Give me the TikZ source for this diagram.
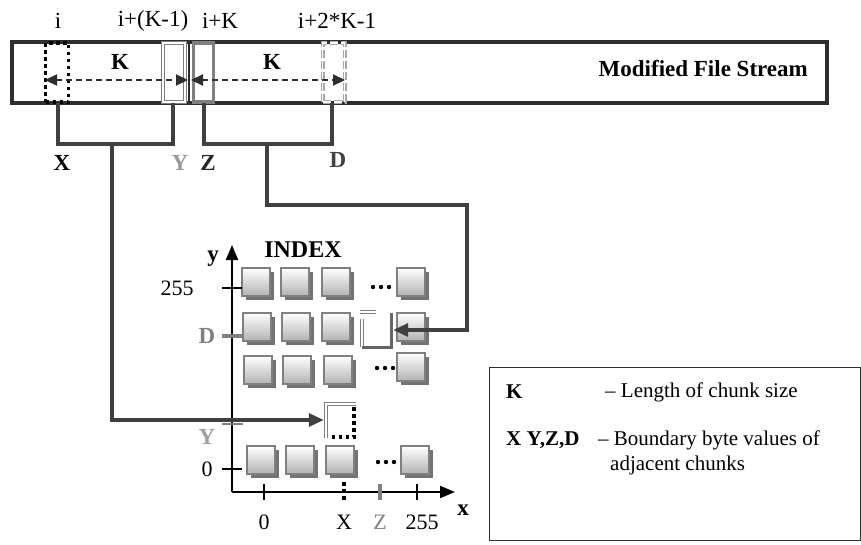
\documentclass[tikz,border=0pt]{standalone}
\usepackage{fontspec}
\setmainfont{Liberation Serif}
\usetikzlibrary{arrows.meta,shadows,calc}
\definecolor{dk}{HTML}{2E2E2E}
\definecolor{ln}{HTML}{404040}
\definecolor{gy}{HTML}{808080}
\definecolor{lgy}{HTML}{A8A8A8}
\begin{document}
\begin{tikzpicture}[x=1pt,y=-1pt,
  font=\fontsize{23}{26}\selectfont,
  lbl/.style={inner sep=0pt},
  blbl/.style={inner sep=0pt,font=\fontsize{23}{26}\selectfont\bfseries},
  llbl/.style={inner sep=0pt,font=\fontsize{21}{24}\selectfont},
  lblbl/.style={inner sep=0pt,font=\fontsize{21}{24}\selectfont\bfseries},
  cell/.style={draw=gy,line width=1.6pt,minimum width=28pt,minimum height=28pt,inner sep=0pt,
    top color=white,bottom color=gray!60,
    drop shadow={shadow xshift=4pt,shadow yshift=-4pt,fill=black!55,opacity=1}},
  slot/.style={minimum width=22pt,minimum height=59pt,inner sep=0pt},
  brk/.style={draw=ln,line width=3.2pt},
  arr/.style={draw=ln,line width=3.2pt,-{Triangle[length=15pt,width=13pt]}},
  karr/.style={draw=dk,line width=2.2pt,dashed,dash pattern=on 6pt off 4pt,{Triangle[length=12pt,width=11pt]}-{Triangle[length=12pt,width=11pt]}},
  axis/.style={draw=black,line width=2pt},
  tick/.style={draw=black,line width=2pt},
  gtick/.style={draw=gy,line width=4pt},
  dbl/.style={draw=gy,line width=1.2pt,double=white,double distance=1.6pt},
  dotk/.style={draw=black,line width=3.5pt,dash pattern=on 3.5pt off 3.5pt}
]
\useasboundingbox (0,0) rectangle (861,544);

% ---------- file stream bar ----------
\node[draw=dk,line width=4.5pt,minimum width=815pt,minimum height=61pt,inner sep=0pt] (bar) at (419.5,72.5) {};
\node[blbl,anchor=east] (mfs) at (808,69) {Modified File Stream};

\node[slot,dotk,minimum width=23pt] (xb) at (57,72.5) {};
\node[slot,dbl] (yb) at (174,72.5) {};
\draw[draw=dk,line width=2.5pt] (189,42) -- (189,103);
\node[slot,draw=gy,line width=3.5pt,minimum width=20pt] (zb) at (203.5,72.5) {};
\node[slot,draw=lgy,line width=1.2pt,double=white,double distance=1.6pt,dashed,dash pattern=on 8pt off 3pt] (db) at (333.5,72.5) {};

\node[lbl] (ti) at (58,21) {i};
\node[lbl] (tik1) at (153,21) {i+(K-1)};
\node[lbl] (tik) at (220,21) {i+K};
\node[lbl] (ti2k) at (337,21) {i+2*K-1};

\node[blbl] (k1) at (120,62) {K};
\node[blbl] (k2) at (272,62) {K};
\coordinate (ka) at (45,80);
\coordinate (kb) at (188,80);
\coordinate (kc) at (191,80);
\coordinate (kd) at (345,80);
\draw[karr] (ka) -- (kb);
\draw[karr] (kc) -- (kd);

% ---------- brackets ----------
\draw[brk] (58,103) -- (58,144) -- (173,144) -- (173,103);
\draw[brk] (204,103) -- (204,144) -- (332,144) -- (332,103);
\node[blbl] (lx) at (62,163) {X};
\node[blbl,text=gray!80] (ly) at (180,163) {Y};
\node[blbl,text=black!85] (lz) at (208,163) {Z};
\node[blbl,text=black!75] (ld) at (338,160) {D};

% ---------- index grid ----------
\node[blbl,font=\fontsize{24}{27}\selectfont\bfseries] (idx) at (303,250) {INDEX};
\node[cell] (c11) at (256,282) {};
\node[cell] (c12) at (295,282) {};
\node[cell] (c13) at (336,282) {};
\node[cell] (c14) at (411,282) {};
\node[cell] (c21) at (257,327) {};
\node[cell] (c22) at (296,327) {};
\node[cell] (c23) at (336,327) {};
\node[cell] (c24) at (411,327) {};
\node[cell] (c31) at (258,370) {};
\node[cell] (c32) at (297,370) {};
\node[cell] (c33) at (338,370) {};
\node[cell] (c34) at (411,367) {};
\node[cell] (c41) at (261,460) {};
\node[cell] (c42) at (300,460) {};
\node[cell] (c43) at (340,460) {};
\node[cell] (c44) at (415,460) {};
\foreach \yy/\xx in {287/373,368/377,462/378}{
  \foreach \d in {0,8,16}{\fill (\xx+\d,\yy) circle (2.2pt);}
}

% empty D cell
\node[minimum width=32pt,minimum height=36pt,inner sep=0pt] (dcell) at (377,330) {};
\draw[dbl] (362,319) -- (362,347);
\draw[dbl] (360,312) -- (376,312);
\draw[draw=gy!80!black,line width=3pt] (362,347) -- (391,347) -- (391,313);
% empty XY cell
\node[minimum width=32pt,minimum height=34pt,inner sep=0pt] (xycell) at (340,420) {};
\draw[dbl] (326,438) -- (326,404) -- (356,404);
\draw[dotk] (354,407) -- (354,437) -- (328,437);

% axes
\coordinate (orig) at (232,492);
\coordinate (ytip) at (232,245);
\coordinate (xtip) at (455,492);
\draw[axis,-{Triangle[length=15pt,width=12pt]}] (orig) -- (ytip);
\draw[axis,-{Triangle[length=15pt,width=12pt]}] (orig) -- (xtip);
\node[blbl] (ya) at (213,259) {y};
\node[blbl] (xa) at (463,510) {x};

\draw[tick] (222,288) -- (242,288);
\draw[gtick] (222,336) -- (242,336);
\draw[draw=gy,line width=1.5pt] (222,424) -- (243,424);
\draw[tick] (222,469) -- (242,469);
\node[lbl,font=\fontsize{22}{25}\selectfont] (y255) at (177,288) {255};
\node[blbl,text=gy] (yd) at (207,336) {D};
\node[blbl,text=gray!75] (yy) at (207,437) {Y};
\node[lbl,font=\fontsize{22}{25}\selectfont] (y0) at (207,469) {0};

\draw[tick] (264,484) -- (264,500);
\draw[draw=black,line width=3.5pt,dash pattern=on 4pt off 3pt] (344,482) -- (344,501);
\draw[gtick] (380,484) -- (380,500);
\draw[tick] (417,484) -- (417,500);
\node[lbl,font=\fontsize{22}{25}\selectfont] (x0) at (264,522) {0};
\node[lbl,font=\fontsize{22}{25}\selectfont] (xx) at (344,522) {X};
\node[lbl,font=\fontsize{22}{25}\selectfont,text=gy] (xz) at (380,522) {Z};
\node[lbl,font=\fontsize{22}{25}\selectfont] (x255) at (422,522) {255};

% connectors
\coordinate (jxy) at (112,144);
\coordinate (jzd) at (267,144);
\coordinate (bend) at (467,205);
\draw[arr] (jxy) |- (xycell.west);
\draw[arr] (jzd) |- (bend) |- (dcell.east);

% ---------- legend ----------
\node[draw=dk,line width=1.3pt,minimum width=371pt,minimum height=173pt,inner sep=0pt,anchor=north west] (leg) at (489,367) {};
\node[lblbl,anchor=west] (lk) at (506,392) {K};
\node[llbl,anchor=west] (lkd) at (605,392) {– Length of chunk size};
\node[lblbl,anchor=west] (lxy) at (506,440) {X Y,Z,D};
\node[llbl,anchor=west] (lxyd) at (598,440) {– Boundary byte values of};
\node[llbl,anchor=west] (lxyd2) at (610,465) {adjacent chunks};
\end{tikzpicture}
\end{document}
